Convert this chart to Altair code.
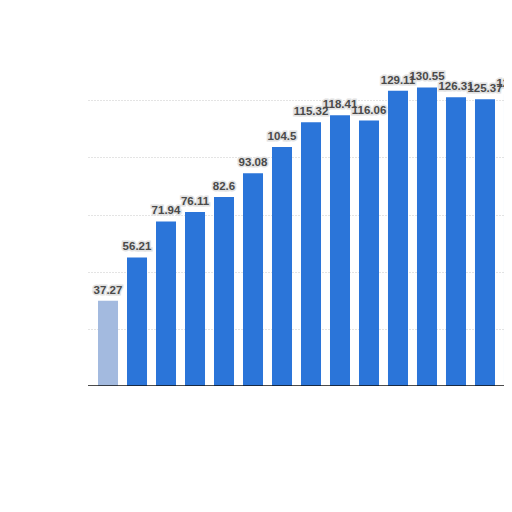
import altair as alt
import pandas as pd

categories = [str(i) for i in range(1, 16)]
values = [37.27, 56.21, 71.94, 76.11, 82.6, 93.08, 104.5, 115.32,
          118.41, 116.06, 129.11, 130.55, 126.31, 125.37, 127.89]
labels = [f"{v:g}" for v in values]
grid_values = [25, 50, 75, 100, 125]

df = pd.DataFrame({"cat": categories, "value": values, "label": labels})

x = alt.X("cat:N", sort=categories,
          scale=alt.Scale(paddingInner=0.31, paddingOuter=0.345, range=[0, 446]),
          axis=None)
y = alt.Y("value:Q", scale=alt.Scale(domain=[0, 150], nice=False),
          axis=alt.Axis(values=grid_values, labels=False, ticks=False, domain=False,
                        title=None, grid=True, gridColor="#c8c8c8", gridDash=[1, 2]))

base = alt.Chart(df)

bars = base.mark_bar().encode(
    x=x, y=y,
    color=alt.condition(alt.datum.cat == categories[0],
                        alt.value("#a3badf"), alt.value("#2b75d9")),
)

baseline = alt.Chart(pd.DataFrame({"v": [0]})).mark_rule(
    color="#111111", strokeWidth=1.5).encode(y=alt.Y("v:Q"))

halo = base.mark_text(baseline="alphabetic", dy=-7, fontSize=11.5, fontWeight="bold",
                      font="Liberation Sans", stroke="#e2e2e2", strokeWidth=3,
                      fill="#e2e2e2").encode(x=x, y=y, text="label:N")
text = base.mark_text(baseline="alphabetic", dy=-7, fontSize=11.5, fontWeight="bold",
                      font="Liberation Sans", color="#4a4a4a").encode(x=x, y=y, text="label:N")

chart = alt.layer(bars, baseline, halo, text).properties(
    width=416, height=343,
    autosize=alt.AutoSizeParams(type="none"),
    padding={"left": 80, "top": 35, "right": 0, "bottom": 0},
    background="white",
).configure_view(strokeWidth=0)

chart.save("out.html", embed_options={"renderer": "svg", "actions": False})
